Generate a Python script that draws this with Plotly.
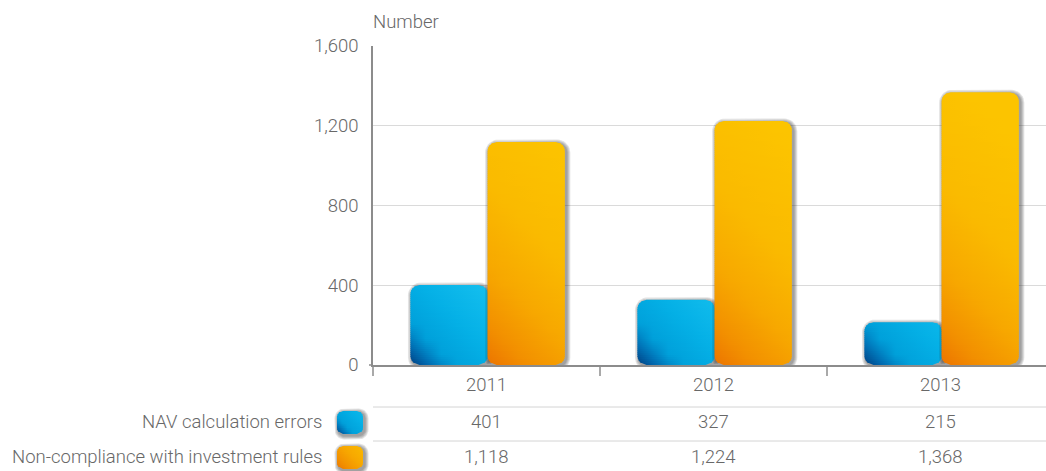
import numpy as np
import plotly.graph_objects as go

# ---- data -------------------------------------------------------------
years = ["2011", "2012", "2013"]
nav_errors = [401, 327, 215]
non_compliance = [1118, 1224, 1368]
y_tick_values = [0, 400, 800, 1200, 1600]
series_names = ["NAV calculation errors", "Non-compliance with investment rules"]

# ---- layout constants (pixels) ---------------------------------------
W, H = 1046, 471
PLOT_L, PLOT_T, PLOT_B = 373, 46, 365
SLOT = 227                      # width of one category in px
X_RANGE = [-0.5, -0.5 + (W - PLOT_L) / SLOT]
Y_RANGE = [0, 1600]
PX_Y = (PLOT_B - PLOT_T) / (Y_RANGE[1] - Y_RANGE[0])   # px per unit
BAR_OFFSETS = [(-0.335, 0.005), (0.005, 0.345)]        # blue, orange
RADIUS_PX = 9
STRIP_PX = 2

FONT = "Roboto"
TEXT = "#686868"
FS = 18.5

# gradient stops keyed by diagonal distance (x + y, in px) from the bottom-left corner
BLUE_STOPS = [(0, (0, 62, 128)), (18, (0, 105, 175)), (42, (0, 160, 218)),
              (90, (4, 176, 230)), (170, (24, 194, 240))]
ORANGE_STOPS = [(0, (236, 116, 0)), (40, (242, 143, 0)), (100, (247, 168, 0)),
                (180, (250, 186, 0)), (300, (252, 196, 0))]


def py(p):
    """pixel row -> paper y"""
    return 1 - p / H


def px(p):
    return p / W


def lerp_color(stops, s):
    s = min(max(s, stops[0][0]), stops[-1][0])
    for (s0, c0), (s1, c1) in zip(stops[:-1], stops[1:]):
        if s <= s1:
            t = 0 if s1 == s0 else (s - s0) / (s1 - s0)
            return tuple(int(round(a + (b - a) * t)) for a, b in zip(c0, c1))
    return stops[-1][1]


def rgba(c, a=1.0):
    return f"rgba({c[0]},{c[1]},{c[2]},{a:.3f})"


def rounded_rect(x0, x1, y0, y1, rx, ry, n=10):
    """closed outline of a rectangle with rounded corners (y0 bottom, y1 top)"""
    sy = 1 if y1 > y0 else -1
    xs, ys = [], []
    corners = [
        (x1 - rx, y1 - sy * ry, 0, 90),
        (x0 + rx, y1 - sy * ry, 90, 180),
        (x0 + rx, y0 + sy * ry, 180, 270),
        (x1 - rx, y0 + sy * ry, 270, 360),
    ]
    for cx, cy, a0, a1 in corners:
        for a in np.linspace(np.radians(a0), np.radians(a1), n):
            xs.append(cx + rx * np.cos(a))
            ys.append(cy + sy * ry * np.sin(a))
    xs.append(xs[0])
    ys.append(ys[0])
    return xs, ys


def corner_inset(y, h, r):
    """horizontal inset (px) of a rounded rectangle's edge at height y (px from bottom)"""
    if y < r:
        d = r - y
    elif y > h - r:
        d = y - (h - r)
    else:
        return 0.0
    d = min(d, r)
    return r - np.sqrt(max(r * r - d * d, 0.0))


def shaded_box(fig, x0, x1, y0, y1, kx, ky, stops, xref, yref, radius, stretch=1.0):
    """rounded box with a 45-degree gradient (dark bottom-left) and a soft shadow.
    kx, ky: pixels per data unit along x and y (ky negative when the axis is reversed)."""
    sgn = 1 if ky > 0 else -1
    kyabs = abs(ky)
    w_px = abs(x1 - x0) * kx
    h_px = abs(y1 - y0) * kyabs
    r = min(radius, w_px / 2, h_px / 2)
    common = dict(mode="lines", line=dict(width=0), fill="toself",
                  hoverinfo="skip", showlegend=False, xaxis=xref, yaxis=yref)
    # soft shadow
    for k in (4, 3, 2, 1):
        dx, dy = 1.5 / kx, -1.5 * sgn / kyabs
        ex, ey = k / kx, k * sgn / kyabs
        xs, ys = rounded_rect(x0 - ex + dx, x1 + ex + dx, y0 - ey + dy, y1 + ey + dy,
                              (r + k) / kx, (r + k) / kyabs)
        fig.add_trace(go.Scatter(x=xs, y=ys, fillcolor="rgba(40,40,40,0.13)", **common))

    # gradient body built from thin horizontal strips, each with its own horizontal gradient
    n = max(1, int(np.ceil(h_px / STRIP_PX)))
    edges = np.linspace(0, h_px, n + 1)
    for j in range(n):
        ya = edges[j]
        yb = min(edges[j + 1] + (0.8 if j < n - 1 else 0), h_px)
        ia, ib = corner_inset(ya, h_px, r), corner_inset(yb, h_px, r)
        pxs = [ia, w_px - ia, w_px - ib, ib, ia]
        pys = [ya, ya, yb, yb, ya]
        xs = [x0 + p / kx for p in pxs]
        ys = [y0 + sgn * p / kyabs for p in pys]
        ym = 0.5 * (ya + yb)
        scale = [[t, rgba(lerp_color(stops, stretch * (t * w_px + ym)))]
                 for t in np.linspace(0, 1, 6)]
        fig.add_trace(go.Scatter(
            x=xs, y=ys,
            fillgradient=dict(type="horizontal", colorscale=scale, start=x0, stop=x1),
            **common))


fig = go.Figure()

# ---- bars ---------------------------------------------------------------
for i in range(len(years)):
    for (o0, o1), vals, stops in zip(BAR_OFFSETS, [nav_errors, non_compliance],
                                     [BLUE_STOPS, ORANGE_STOPS]):
        shaded_box(fig, i + o0, i + o1, 0, vals[i], SLOT, PX_Y, stops, "x", "y", RADIUS_PX)

# ---- legend swatches of the data table (pixel overlay axes) -------------
ROW_Y = [422, 457]
for row, stops, stretch in zip(ROW_Y, [BLUE_STOPS, ORANGE_STOPS], [2.5, 3.5]):
    shaded_box(fig, 337, 363, row + 12, row - 11, 1, -1, stops, "x2", "y2", 6, stretch)

# ---- axes -----------------------------------------------------------------
tick_font = dict(family=FONT, size=FS, color=TEXT, weight=300)
fig.update_layout(
    width=W, height=H,
    margin=dict(l=0, r=0, t=0, b=0, pad=0, autoexpand=False),
    paper_bgcolor="white", plot_bgcolor="rgba(0,0,0,0)",
    font=dict(family=FONT, size=FS, color=TEXT, weight=300),
    xaxis=dict(domain=[px(PLOT_L), 1], range=X_RANGE, tickvals=list(range(len(years))),
               ticktext=years, showgrid=False, zeroline=False, showline=True,
               linecolor="#8c8c8c", linewidth=1.5, ticks="", ticklabelstandoff=2,
               tickfont=tick_font, fixedrange=True, automargin=False),
    yaxis=dict(domain=[py(PLOT_B), py(PLOT_T)], range=Y_RANGE, tickvals=y_tick_values,
               tickformat=",", showgrid=True, gridcolor="#dadada", gridwidth=1,
               zeroline=False, showline=True, linecolor="#8c8c8c", linewidth=1.5,
               ticks="", ticklabelstandoff=9,
               tickfont=tick_font, fixedrange=True, automargin=False),
    xaxis2=dict(domain=[0, 1], range=[0, W], visible=False, anchor="y2",
                fixedrange=True, automargin=False),
    yaxis2=dict(domain=[0, 1], range=[H, 0], visible=False, anchor="x2",
                fixedrange=True, automargin=False),
)

shapes = []
# category separators and axis extension below the baseline
for sep in [0.5, 1.5]:
    shapes.append(dict(type="line", xref="x", yref="paper", x0=sep, x1=sep,
                       y0=py(PLOT_B), y1=py(PLOT_B + 11), line=dict(color="#8c8c8c", width=1.5)))
shapes.append(dict(type="line", xref="paper", yref="paper", x0=px(PLOT_L), x1=px(PLOT_L),
                   y0=py(PLOT_B), y1=py(PLOT_B + 11), line=dict(color="#8c8c8c", width=1.5)))
shapes.append(dict(type="line", xref="paper", yref="paper", x0=px(PLOT_L - 4), x1=px(PLOT_L),
                   y0=py(PLOT_B), y1=py(PLOT_B), line=dict(color="#8c8c8c", width=1.5)))
# data-table rules
for rule in [407, 441]:
    shapes.append(dict(type="line", xref="paper", yref="paper", x0=px(PLOT_L), x1=1,
                       y0=py(rule), y1=py(rule), line=dict(color="#d4d4d4", width=1)))
fig.update_layout(shapes=shapes)

annotations = [dict(text="Number", xref="paper", yref="paper", x=px(PLOT_L - 2), y=py(22),
                    xanchor="left", yanchor="middle", showarrow=False)]
for row, name, vals in zip(ROW_Y, series_names, [nav_errors, non_compliance]):
    annotations.append(dict(text=name, xref="paper", yref="paper", x=px(324), y=py(row),
                            xanchor="right", yanchor="middle", showarrow=False))
    for i, v in enumerate(vals):
        annotations.append(dict(text=f"{v:,}", xref="x", yref="paper", x=i, y=py(row),
                                xanchor="center", yanchor="middle", showarrow=False))
fig.update_layout(annotations=annotations)

fig.write_html("out.html")
